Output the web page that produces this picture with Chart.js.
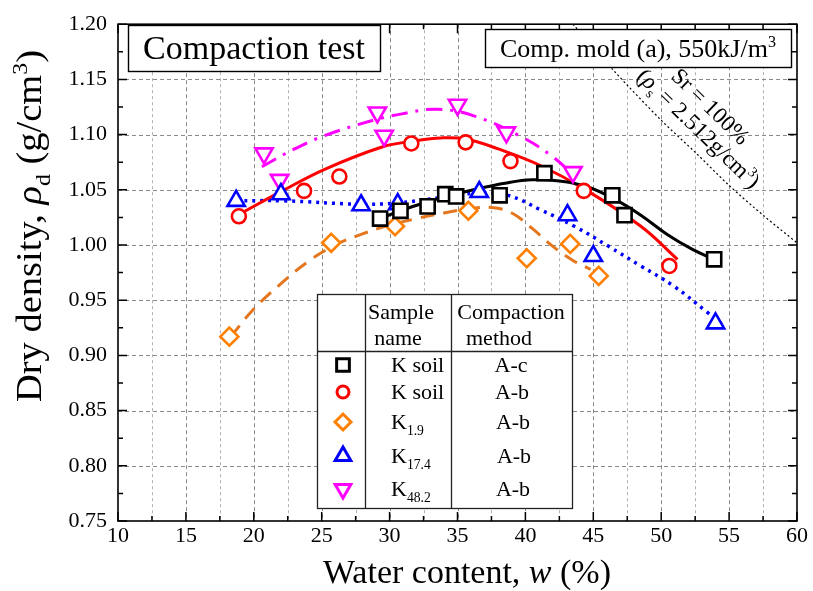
<!DOCTYPE html>
<html><head><meta charset="utf-8">
<script src="https://cdn.jsdelivr.net/npm/chart.js@4/dist/chart.umd.min.js"></script>
<style>html,body{margin:0;padding:0;background:#fff;}canvas{display:block;}</style>
</head><body>
<canvas id="c" width="813" height="591"></canvas>
<script>
// ---- tick labels ----
const xTickValues = [10,15,20,25,30,35,40,45,50,55,60];
const xTickLabels = ['10','15','20','25','30','35','40','45','50','55','60'];
const yTickValues = [0.75,0.80,0.85,0.90,0.95,1.00,1.05,1.10,1.15,1.20];
const yTickLabels = ['0.75','0.80','0.85','0.90','0.95','1.00','1.05','1.10','1.15','1.20'];

// ---- measured points (water content %, dry density g/cm3) ----
const kSoilAcW   = [29.3, 30.8, 32.8, 34.1, 34.9, 38.1, 41.4, 46.4, 47.3, 53.9];
const kSoilAcRho = [1.024,1.031,1.035,1.046,1.044,1.045,1.065,1.045,1.027,0.987];
const kSoilAbW   = [18.9, 23.7, 26.3, 31.6, 35.6, 38.9, 44.3, 50.6];
const kSoilAbRho = [1.026,1.049,1.062,1.092,1.093,1.076,1.049,0.981];
const k19W       = [18.2, 25.7, 30.4, 35.8, 40.1, 43.3, 45.4];
const k19Rho     = [0.917,1.002,1.017,1.031,0.988,1.001,0.972];
const k174W      = [18.7, 22.0, 27.9, 30.6, 36.6, 43.1, 45.0, 54.0];
const k174Rho    = [1.040,1.046,1.036,1.037,1.048,1.027,0.990,0.929];
const k482W      = [20.75,21.9, 29.1, 29.6, 35.0, 38.6, 43.5];
const k482Rho    = [1.083,1.059,1.120,1.099,1.127,1.102,1.066];

// ---- fitted curves ----
const fitAcW   = [29.3, 30.8, 32.5, 34.5, 36.5, 38.5, 40.5, 42.5, 44.5, 46.5, 48.5, 50.5, 52.3, 53.9];
const fitAcRho = [1.024,1.031,1.038,1.045,1.051,1.056,1.059,1.058,1.053,1.042,1.027,1.009,0.996,0.987];
const fitAbW   = [18.8, 22.1, 25.3, 29.5, 31.7, 33.8, 35.6, 38.0, 41.1, 44.3, 48.5, 51.2];
const fitAbRho = [1.027,1.049,1.069,1.089,1.094,1.097,1.096,1.087,1.072,1.051,1.017,0.987];
const fit19W   = [18.3, 20.0, 22.0, 24.0, 26.0, 28.0, 30.0, 32.0, 34.0, 36.0, 37.5, 39.0, 40.5, 42.0, 43.5, 44.8];
const fit19Rho = [0.917,0.942,0.965,0.985,1.000,1.010,1.018,1.024,1.029,1.033,1.034,1.029,1.015,0.999,0.986,0.978];
const fit174W  = [18.7, 22.2, 27.7, 30.5, 33.8, 36.5, 38.7, 41.1, 43.6, 46.1, 48.5, 50.9, 53.4, 54.6];
const fit174Rho= [1.040,1.040,1.037,1.038,1.043,1.047,1.045,1.032,1.017,0.999,0.981,0.963,0.939,0.927];
const fit482W  = [20.6, 23.0, 25.2, 28.8, 31.0, 33.5, 36.2, 39.7, 41.9, 43.5];
const fit482Rho= [1.071,1.087,1.099,1.113,1.119,1.123,1.117,1.098,1.081,1.064];

// ---- saturation line Sr = 100% ----
const satW   = [43.5, 46.5, 50.0, 52.5, 55.0, 57.5, 60.0];
const satRho = [1.200,1.158,1.113,1.084,1.054,1.027,1.002];

const pts = (xs, ys) => xs.map((v, i) => ({x: v, y: ys[i]}));
const FONT = '"Liberation Serif", "Times New Roman", serif';

const series = [
  {name:'K soil', method:'A-c', sub:'', w:kSoilAcW, r:kSoilAcRho, fw:fitAcW, fr:fitAcRho, color:'#000000', line:'#000000', style:'rect', rot:0, rad:10, dash:[]},
  {name:'K soil', method:'A-b', sub:'', w:kSoilAbW, r:kSoilAbRho, fw:fitAbW, fr:fitAbRho, color:'#ff0000', line:'#ff0000', style:'circle', rot:0, rad:7, dash:[]},
  {name:'K', method:'A-b', sub:'1.9', w:k19W, r:k19Rho, fw:fit19W, fr:fit19Rho, color:'#ff8000', line:'#e3761e', style:'rectRot', rot:0, rad:9, dash:[14,9]},
  {name:'K', method:'A-b', sub:'17.4', w:k174W, r:k174Rho, fw:fit174W, fr:fit174Rho, color:'#0000ff', line:'#0000ff', style:'triangle', rot:0, rad:10, dash:[3,5]},
  {name:'K', method:'A-b', sub:'48.2', w:k482W, r:k482Rho, fw:fit482W, fr:fit482Rho, color:'#ff00ff', line:'#ff00ff', style:'triangle', rot:180, rad:10, dash:[16,8,3,8]}
];

const datasets = [];
series.forEach(s => {
  datasets.push({
    data: pts(s.w, s.r), showLine:false, order:0,
    pointStyle:s.style, rotation:s.rot, pointRadius:s.rad, pointBorderWidth:2.6,
    pointBorderColor:s.color, pointBackgroundColor:'#ffffff', borderColor:s.color
  });
  datasets.push({
    data: pts(s.fw, s.fr), showLine:true, order:1, pointRadius:0,
    borderColor:s.line, borderWidth:(s.style==='triangle'&&s.rot===0)?3.5:3, borderDash:s.dash,
    tension:0.4, fill:false
  });
});
datasets.push({
  data: pts(satW, satRho), showLine:true, order:2, pointRadius:0,
  borderColor:'#000000', borderWidth:1.2, borderDash:[2,2.5], tension:0.3, fill:false
});

function rich(ctx, parts, x, y, size, align, stretch) {
  stretch = stretch || 1;
  const seg = parts.map(p => {
    const sz = (p.sub || p.sup) ? size * 0.62 : size;
    const font = (p.it ? 'italic ' : '') + sz + 'px ' + FONT;
    ctx.font = font;
    return {t:p.t, font, w:ctx.measureText(p.t).width * stretch, dy: p.sub ? size*0.25 : (p.sup ? -size*0.40 : 0)};
  });
  const total = seg.reduce((a, s) => a + s.w, 0);
  let cx = align === 'center' ? x - total/2 : (align === 'right' ? x - total : x);
  ctx.textAlign = 'left'; ctx.textBaseline = 'alphabetic';
  seg.forEach(s => {
    ctx.font = s.font;
    ctx.save(); ctx.translate(cx, y + s.dy); ctx.scale(stretch, 1); ctx.fillText(s.t, 0, 0); ctx.restore();
    cx += s.w;
  });
  return total;
}

const deco = {
  id:'deco',
  beforeDatasetsDraw(chart) {
    const {ctx, chartArea:a, scales:{x, y}} = chart;
    ctx.save();
    ctx.lineWidth = 1;
    for (let k = 1; k < 20; k++) {
      const v = 10 + k*2.5;
      const px = Math.round(x.getPixelForValue(v)) + 0.5;
      const major = (k % 2 === 0);
      ctx.strokeStyle = major ? '#8a8a8a' : '#b0b0b0';
      ctx.setLineDash(major ? [4,3] : [3,3]);
      ctx.beginPath(); ctx.moveTo(px, a.top); ctx.lineTo(px, a.bottom); ctx.stroke();
    }
    for (let k = 1; k < 9; k++) {
      const v = 0.75 + k*0.05;
      const py = Math.round(y.getPixelForValue(v)) + 0.5;
      ctx.strokeStyle = '#8a8a8a'; ctx.setLineDash([4,3]);
      ctx.beginPath(); ctx.moveTo(a.left, py); ctx.lineTo(a.right, py); ctx.stroke();
    }
    ctx.restore();
  },
  afterDatasetsDraw(chart) {
    const {ctx, chartArea:a, scales:{x, y}} = chart;
    ctx.save();
    ctx.setLineDash([]);
    ctx.strokeStyle = '#000'; ctx.lineWidth = 1.5;
    for (let k = 0; k <= 20; k++) {
      const px = x.getPixelForValue(10 + k*2.5);
      const L = (k % 2 === 0) ? 9 : 5;
      ctx.beginPath();
      ctx.moveTo(px, a.bottom); ctx.lineTo(px, a.bottom - L);
      ctx.moveTo(px, a.top); ctx.lineTo(px, a.top + L);
      ctx.stroke();
    }
    for (let k = 0; k <= 18; k++) {
      const py = y.getPixelForValue(0.75 + k*0.025);
      const L = (k % 2 === 0) ? 9 : 5;
      ctx.beginPath();
      ctx.moveTo(a.left, py); ctx.lineTo(a.left + L, py);
      ctx.moveTo(a.right, py); ctx.lineTo(a.right - L, py);
      ctx.stroke();
    }
    ctx.lineWidth = 1.6;
    ctx.strokeRect(a.left, a.top, a.right - a.left, a.bottom - a.top);
    ctx.restore();
  },
  afterDraw(chart) {
    const {ctx, chartArea:a} = chart;
    ctx.save();
    ctx.fillStyle = '#000';
    // title boxes
    ctx.lineWidth = 1.4; ctx.strokeStyle = '#000';
    ctx.fillStyle = '#fff'; ctx.fillRect(128, 25, 252, 46); ctx.strokeRect(128.5, 25.5, 252, 46);
    ctx.fillStyle = '#000';
    rich(ctx, [{t:'Compaction test'}], 254, 59, 34, 'center');
    ctx.fillStyle = '#fff'; ctx.fillRect(485, 29, 306, 38); ctx.strokeRect(485.5, 29.5, 306, 38);
    ctx.fillStyle = '#000';
    rich(ctx, [{t:'Comp. mold (a), 550kJ/m'},{t:'3', sup:true}], 638, 57, 26, 'center');

    // saturation line labels
    const ang = Math.PI/4 * 0.98;
    ctx.save(); ctx.translate(711, 106); ctx.rotate(ang);
    rich(ctx, [{t:'Sr = 100%'}], 0, 8, 23, 'center'); ctx.restore();
    ctx.save(); ctx.translate(699, 128); ctx.rotate(ang);
    rich(ctx, [{t:'('},{t:'ρ', it:true},{t:'s', sub:true},{t:' = 2.512g/cm'},{t:'3', sup:true},{t:')'}], 0, 8, 23, 'center'); ctx.restore();

    // legend table
    const L = 317, R = 572, T = 294, B = 508, c1 = 365, c2 = 451, hy = 351;
    ctx.fillStyle = '#fff'; ctx.fillRect(L, T, R-L, B-T);
    ctx.strokeStyle = '#222'; ctx.lineWidth = 1.3;
    ctx.strokeRect(L+0.5, T+0.5, R-L, B-T);
    ctx.beginPath();
    ctx.moveTo(c1+0.5, T); ctx.lineTo(c1+0.5, B);
    ctx.moveTo(c2+0.5, T); ctx.lineTo(c2+0.5, B);
    ctx.moveTo(L, hy+0.5); ctx.lineTo(R, hy+0.5);
    ctx.stroke();
    ctx.fillStyle = '#000';
    rich(ctx, [{t:'Sample'}], 401, 319, 22, 'center');
    rich(ctx, [{t:'name'}], 398, 345, 22, 'center');
    rich(ctx, [{t:'Compaction'}], 511, 319, 22, 'center');
    rich(ctx, [{t:'method'}], 499, 345, 22, 'center');
    const rowY = [365, 392, 422, 456, 489];
    const mX = [511, 512, 513, 514, 513];
    series.forEach((s, i) => {
      const yy = rowY[i];
      ctx.save();
      ctx.strokeStyle = s.color; ctx.fillStyle = '#fff'; ctx.lineWidth = 3; ctx.setLineDash([]);
      Chart.helpers.drawPoint(ctx, {pointStyle:s.style, rotation:s.rot, radius:s.rad - 1, borderWidth:3}, 343, yy);
      ctx.restore();
      ctx.fillStyle = '#000';
      if (s.sub) rich(ctx, [{t:s.name},{t:s.sub, sub:true}], 391, yy + 7, 22, 'left');
      else rich(ctx, [{t:s.name}], 391, yy + 7, 22, 'left');
      rich(ctx, [{t:s.method}], mX[i], yy + 7, 22, 'center');
    });

    // axis titles
    ctx.fillStyle = '#000';
    rich(ctx, [{t:'Water content, '},{t:'w', it:true},{t:' (%)'}], 467, 583, 34, 'center');
    ctx.save(); ctx.translate(41, 226); ctx.rotate(-Math.PI/2);
    rich(ctx, [{t:'Dry density, '},{t:'ρ', it:true},{t:'d', sub:true},{t:' (g/cm'},{t:'3', sup:true},{t:')'}], 0, 0, 35, 'center', 1.1);
    ctx.restore();
    ctx.restore();
  }
};

new Chart(document.getElementById('c'), {
  type:'scatter',
  data:{datasets},
  options:{
    responsive:false, animation:false, devicePixelRatio:1,
    layout:{padding:{top:19, right:16, left:0, bottom:0}},
    plugins:{legend:{display:false}, tooltip:{enabled:false}},
    scales:{
      x:{type:'linear', min:10, max:60,
        grid:{display:false, drawTicks:false}, border:{display:false},
        afterBuildTicks:s => { s.ticks = xTickValues.map(v => ({value:v})); },
        afterFit:s => { s.height = 70; },
        ticks:{padding:2, autoSkip:false, maxRotation:0, color:'#000',
          font:{family:FONT, size:22}, callback:(v, i) => xTickLabels[i]}},
      y:{type:'linear', min:0.75, max:1.20,
        grid:{display:false, drawTicks:false}, border:{display:false},
        afterBuildTicks:s => { s.ticks = yTickValues.map(v => ({value:v})); },
        afterFit:s => { s.width = 118; },
        ticks:{padding:11, autoSkip:false, color:'#000',
          font:{family:FONT, size:22}, callback:(v, i) => yTickLabels[i]}}
    }
  },
  plugins:[deco]
});
</script>
</body></html>
